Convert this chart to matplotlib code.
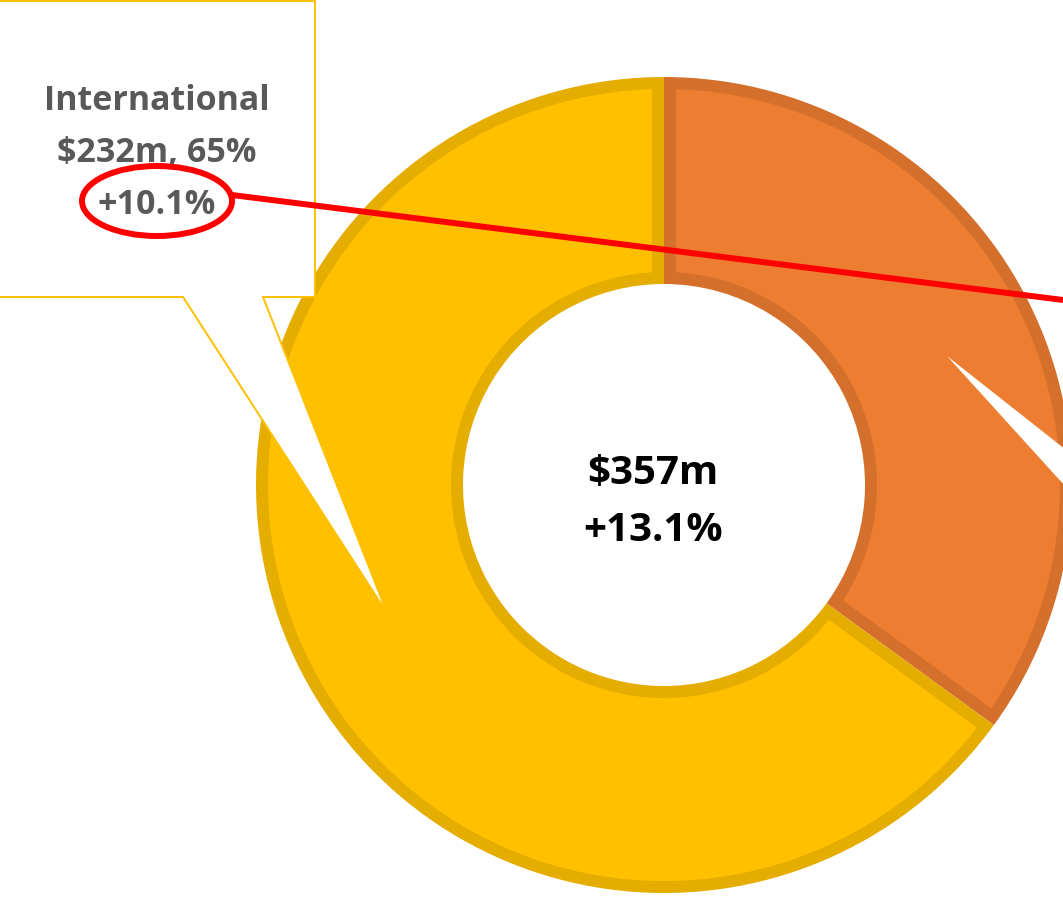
import numpy as np
import matplotlib.pyplot as plt
from matplotlib.patches import Polygon, Ellipse

# data
segments = ["Domestic", "International"]
revenue_m = [125, 232]           # $m
growth_pct = [None, 10.1]
total_m = 357
total_growth = 13.1

fills = ["#ED7D31", "#FFC000"]
edges = ["#D5702C", "#E5AD00"]

W, H = 1063, 901

def py(y):
    # picture rows -> data y
    return H - y

fig = plt.figure(figsize=(W / 100, H / 100), dpi=100)
ax = fig.add_axes([0, 0, 1, 1])

cx, cy, R, ring = 664, py(485), 408, 207
t = 12  # border thickness, drawn inside each wedge

# outer layer in the border colour
wedges, _ = ax.pie(revenue_m, colors=edges, startangle=90, counterclock=False,
                   radius=R, center=(cx, cy), frame=True,
                   wedgeprops=dict(width=ring, linewidth=0))
ax.set_xlim(0, W)
ax.set_ylim(0, H)
ax.set_aspect("equal")
ax.axis("off")

# inner fill, inset by t from every side of each wedge
for w, fc in zip(wedges, fills):
    x0, y0 = w.center
    ro, ri = w.r - t, w.r - w.width + t
    dao = np.degrees(np.arcsin(t / ro))
    dai = np.degrees(np.arcsin(t / ri))
    a_out = np.radians(np.linspace(w.theta1 + dao, w.theta2 - dao, 200))
    a_in = np.radians(np.linspace(w.theta2 - dai, w.theta1 + dai, 200))
    xs = np.r_[x0 + ro * np.cos(a_out), x0 + ri * np.cos(a_in)]
    ys = np.r_[y0 + ro * np.sin(a_out), y0 + ri * np.sin(a_in)]
    ax.add_patch(Polygon(np.c_[xs, ys], closed=True, facecolor=fc, edgecolor="none"))

# total in the hole
ax.text(653, py(502), f"${total_m}m\n+{total_growth}%", ha="center", va="center",
        fontsize=29, fontweight="bold", family="Open Sans", linespacing=1.58, color="black")

# callout for International
box = [(-5, 1), (315, 1), (315, 297), (263, 297), (387, 613), (183, 297), (-5, 297)]
ax.add_patch(Polygon([(x, py(y)) for x, y in box], closed=True, facecolor="white",
                     edgecolor="#FFC000", linewidth=1.4, zorder=5))
i = segments.index("International")
share = round(100 * revenue_m[i] / total_m)
ax.text(157, py(153), f"{segments[i]}\n${revenue_m[i]}m, {share}%\n+{growth_pct[i]}%",
        ha="center", va="center", fontsize=24.5, fontweight="bold", family="Open Sans",
        color="#595959", linespacing=1.7, zorder=6)

# pointer of the other callout (box is off to the right)
ax.add_patch(Polygon([(947, py(356)), (1075, py(457)), (1075, py(497))], closed=True,
                     facecolor="white", edgecolor="none", zorder=5))

# red highlight
ax.add_patch(Ellipse((157, py(201)), 150, 70, fill=False, edgecolor="#FF0000",
                     linewidth=4.3, zorder=7))
ax.plot([232, 1063], [py(195), py(300)], color="#FF0000", linewidth=4.3,
        solid_capstyle="butt", zorder=7)

fig.savefig("out.png", dpi=100)
